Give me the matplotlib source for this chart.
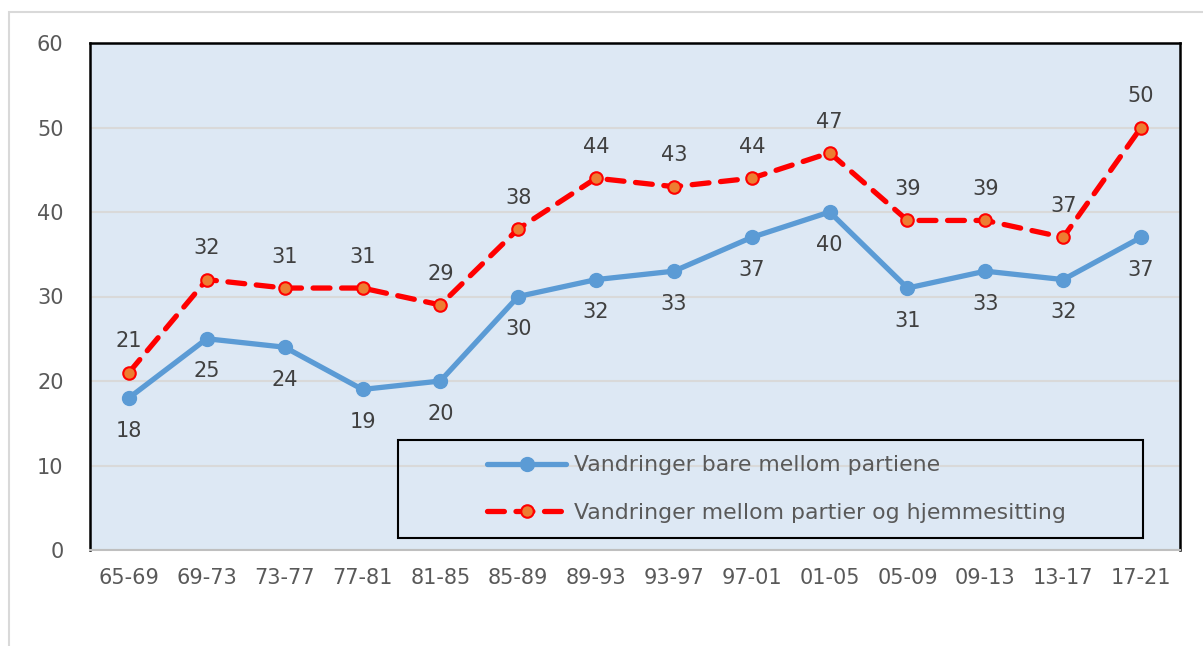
import matplotlib.pyplot as plt
from matplotlib.patches import Rectangle

periods = ["65-69", "69-73", "73-77", "77-81", "81-85", "85-89", "89-93",
           "93-97", "97-01", "01-05", "05-09", "09-13", "13-17", "17-21"]
bare_partier = [18, 25, 24, 19, 20, 30, 32, 33, 37, 40, 31, 33, 32, 37]
med_hjemme = [21, 32, 31, 31, 29, 38, 44, 43, 44, 47, 39, 39, 37, 50]
yticks = [0, 10, 20, 30, 40, 50, 60]

plt.rcParams['font.family'] = ['DejaVu Sans']

fig = plt.figure(figsize=(12.03, 6.46), dpi=100)
# light outer frame like the exported chart area
fig.patches.append(Rectangle((9 / 1203, -0.05), 1.1, 1 - 12 / 646 + 0.05,
                             transform=fig.transFigure, fill=False,
                             edgecolor='#d9d9d9', linewidth=1.5))

ax = fig.add_axes([90 / 1203, 1 - 550 / 646, 1090 / 1203, 507 / 646])
ax.set_facecolor('#dde8f4')
x = list(range(len(periods)))

ax.plot(x, bare_partier, color='#5b9bd5', linewidth=3.8, marker='o',
        markersize=10, solid_capstyle='round', zorder=3,
        label='Vandringer bare mellom partiene')
ax.plot(x, med_hjemme, color='#ff0000', linewidth=3.8, linestyle=(0, (3.2, 2.2)),
        dash_capstyle='round', marker='o', markersize=9,
        markerfacecolor='#ed7d31', markeredgecolor='#ff0000', markeredgewidth=1.5,
        zorder=3, label='Vandringer mellom partier og hjemmesitting')

for i in x:
    ax.annotate(str(bare_partier[i]), (i, bare_partier[i]), xytext=(0, -23.5),
                textcoords='offset points', ha='center', va='center',
                fontsize=15, color='#404040')
    ax.annotate(str(med_hjemme[i]), (i, med_hjemme[i]), xytext=(0, 22.5),
                textcoords='offset points', ha='center', va='center',
                fontsize=15, color='#404040')

ax.set_xlim(-0.5, len(periods) - 0.5)
ax.set_ylim(0, 60)
ax.set_yticks(yticks)
ax.set_xticks(x)
ax.set_xticklabels(periods)
ax.tick_params(axis='both', length=0, labelsize=15, colors='#595959')
ax.tick_params(axis='y', pad=19)
ax.tick_params(axis='x', pad=13)
ax.grid(axis='y', color='#d9d9d9', linewidth=1.5)
ax.set_axisbelow(True)
for s in ['left', 'top', 'right']:
    ax.spines[s].set_color('black')
    ax.spines[s].set_linewidth(1.8)
ax.spines['bottom'].set_color('#bfbfbf')
ax.spines['bottom'].set_linewidth(1.5)

# legend box
ax.add_patch(Rectangle(((398 - 90) / 1090, (550 - 538) / 507), (1143 - 398) / 1090,
                       98 / 507, transform=ax.transAxes, fill=False,
                       edgecolor='black', linewidth=1.5, zorder=4))
leg = ax.legend(loc='center left', bbox_to_anchor=((487 - 90) / 1090, (550 - 489) / 507),
                frameon=False, fontsize=15.8, handlelength=3.6, handletextpad=0.35,
                labelspacing=1.25, borderpad=0, borderaxespad=0, labelcolor='#595959')

fig.savefig('out.png', dpi=100)
